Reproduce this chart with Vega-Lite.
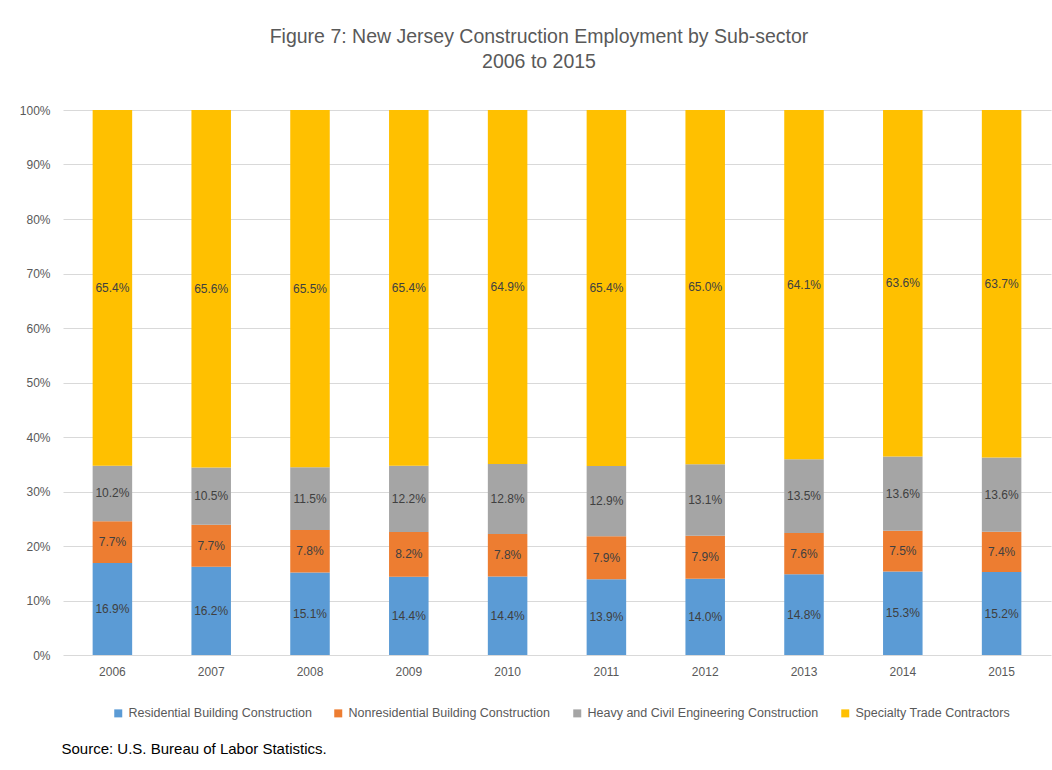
{
  "$schema": "https://vega.github.io/schema/vega-lite/v6.json",
  "autosize": {"type": "none"},
  "width": 988,
  "height": 545,
  "padding": {"left": 63, "top": 110, "right": 1, "bottom": 115},
  "background": "white",
  "config": {
    "font": "Liberation Sans",
    "view": {"stroke": null}
  },
  "title": {
    "text": ["Figure 7: New Jersey Construction Employment by Sub-sector", "2006 to 2015"],
    "fontSize": 19.5,
    "fontWeight": "normal",
    "color": "#595959",
    "lineHeight": 25,
    "anchor": "middle",
    "dx": -18,
    "offset": 32
  },
  "data": {
    "values": [
      {"year": "2006", "sector": "Residential Building Construction", "ord": 1, "value": 16.9},
      {"year": "2006", "sector": "Nonresidential Building Construction", "ord": 2, "value": 7.7},
      {"year": "2006", "sector": "Heavy and Civil Engineering Construction", "ord": 3, "value": 10.2},
      {"year": "2006", "sector": "Specialty Trade Contractors", "ord": 4, "value": 65.4},
      {"year": "2007", "sector": "Residential Building Construction", "ord": 1, "value": 16.2},
      {"year": "2007", "sector": "Nonresidential Building Construction", "ord": 2, "value": 7.7},
      {"year": "2007", "sector": "Heavy and Civil Engineering Construction", "ord": 3, "value": 10.5},
      {"year": "2007", "sector": "Specialty Trade Contractors", "ord": 4, "value": 65.6},
      {"year": "2008", "sector": "Residential Building Construction", "ord": 1, "value": 15.1},
      {"year": "2008", "sector": "Nonresidential Building Construction", "ord": 2, "value": 7.8},
      {"year": "2008", "sector": "Heavy and Civil Engineering Construction", "ord": 3, "value": 11.5},
      {"year": "2008", "sector": "Specialty Trade Contractors", "ord": 4, "value": 65.5},
      {"year": "2009", "sector": "Residential Building Construction", "ord": 1, "value": 14.4},
      {"year": "2009", "sector": "Nonresidential Building Construction", "ord": 2, "value": 8.2},
      {"year": "2009", "sector": "Heavy and Civil Engineering Construction", "ord": 3, "value": 12.2},
      {"year": "2009", "sector": "Specialty Trade Contractors", "ord": 4, "value": 65.4},
      {"year": "2010", "sector": "Residential Building Construction", "ord": 1, "value": 14.4},
      {"year": "2010", "sector": "Nonresidential Building Construction", "ord": 2, "value": 7.8},
      {"year": "2010", "sector": "Heavy and Civil Engineering Construction", "ord": 3, "value": 12.8},
      {"year": "2010", "sector": "Specialty Trade Contractors", "ord": 4, "value": 64.9},
      {"year": "2011", "sector": "Residential Building Construction", "ord": 1, "value": 13.9},
      {"year": "2011", "sector": "Nonresidential Building Construction", "ord": 2, "value": 7.9},
      {"year": "2011", "sector": "Heavy and Civil Engineering Construction", "ord": 3, "value": 12.9},
      {"year": "2011", "sector": "Specialty Trade Contractors", "ord": 4, "value": 65.4},
      {"year": "2012", "sector": "Residential Building Construction", "ord": 1, "value": 14.0},
      {"year": "2012", "sector": "Nonresidential Building Construction", "ord": 2, "value": 7.9},
      {"year": "2012", "sector": "Heavy and Civil Engineering Construction", "ord": 3, "value": 13.1},
      {"year": "2012", "sector": "Specialty Trade Contractors", "ord": 4, "value": 65.0},
      {"year": "2013", "sector": "Residential Building Construction", "ord": 1, "value": 14.8},
      {"year": "2013", "sector": "Nonresidential Building Construction", "ord": 2, "value": 7.6},
      {"year": "2013", "sector": "Heavy and Civil Engineering Construction", "ord": 3, "value": 13.5},
      {"year": "2013", "sector": "Specialty Trade Contractors", "ord": 4, "value": 64.1},
      {"year": "2014", "sector": "Residential Building Construction", "ord": 1, "value": 15.3},
      {"year": "2014", "sector": "Nonresidential Building Construction", "ord": 2, "value": 7.5},
      {"year": "2014", "sector": "Heavy and Civil Engineering Construction", "ord": 3, "value": 13.6},
      {"year": "2014", "sector": "Specialty Trade Contractors", "ord": 4, "value": 63.6},
      {"year": "2015", "sector": "Residential Building Construction", "ord": 1, "value": 15.2},
      {"year": "2015", "sector": "Nonresidential Building Construction", "ord": 2, "value": 7.4},
      {"year": "2015", "sector": "Heavy and Civil Engineering Construction", "ord": 3, "value": 13.6},
      {"year": "2015", "sector": "Specialty Trade Contractors", "ord": 4, "value": 63.7}
    ]
  },
  "transform": [
    {"stack": "value", "groupby": ["year"], "sort": [{"field": "ord", "order": "ascending"}], "offset": "normalize", "as": ["y0", "y1"]},
    {"calculate": "(datum.y0 + datum.y1) / 2", "as": "ymid"},
    {"calculate": "format(datum.value, '.1f') + '%'", "as": "label"}
  ],
  "encoding": {
    "x": {
      "field": "year",
      "type": "ordinal",
      "scale": {"paddingInner": 0.6, "paddingOuter": 0.3},
      "axis": {
        "labelAngle": 0,
        "labelColor": "#595959",
        "labelFontSize": 12,
        "labelPadding": 11,
        "ticks": false,
        "domain": false,
        "title": "Source: U.S. Bureau of Labor Statistics.",
        "titleAnchor": "start",
        "titleAlign": "left",
        "titleX": -2,
        "titleY": 93,
        "titleBaseline": "middle",
        "titleColor": "#000000",
        "titleFontSize": 15,
        "titleFontWeight": "normal"
      }
    }
  },
  "layer": [
    {
      "mark": {"type": "bar"},
      "encoding": {
        "y": {
          "field": "y0",
          "type": "quantitative",
          "scale": {"domain": [0, 1], "nice": false},
          "axis": {
            "values": [0, 0.1, 0.2, 0.3, 0.4, 0.5, 0.6, 0.7, 0.8, 0.9, 1],
            "format": ".0%",
            "labelColor": "#595959",
            "labelFontSize": 12,
            "labelPadding": 13,
            "ticks": false,
            "domain": false,
            "gridColor": "#D9D9D9",
            "gridWidth": 1,
            "title": null
          }
        },
        "y2": {"field": "y1"},
        "color": {
          "field": "sector",
          "type": "nominal",
          "sort": ["Residential Building Construction", "Nonresidential Building Construction", "Heavy and Civil Engineering Construction", "Specialty Trade Contractors"],
          "scale": {
            "domain": ["Residential Building Construction", "Nonresidential Building Construction", "Heavy and Civil Engineering Construction", "Specialty Trade Contractors"],
            "range": ["#5B9BD5", "#ED7D31", "#A5A5A5", "#FFC000"]
          },
          "legend": {
            "title": null,
            "orient": "none",
            "direction": "horizontal",
            "legendX": 49,
            "legendY": 597,
            "symbolType": "square",
            "symbolSize": 64,
            "symbolStrokeWidth": 0,
            "labelFontSize": 12.5,
            "labelLimit": 500,
            "labelColor": "#595959",
            "columnPadding": 20,
            "labelOffset": 4
          }
        }
      }
    },
    {
      "mark": {"type": "text", "fontSize": 12, "color": "#404040", "baseline": "middle", "align": "center"},
      "encoding": {
        "y": {"field": "ymid", "type": "quantitative"},
        "text": {"field": "label", "type": "nominal"}
      }
    }
  ]
}
